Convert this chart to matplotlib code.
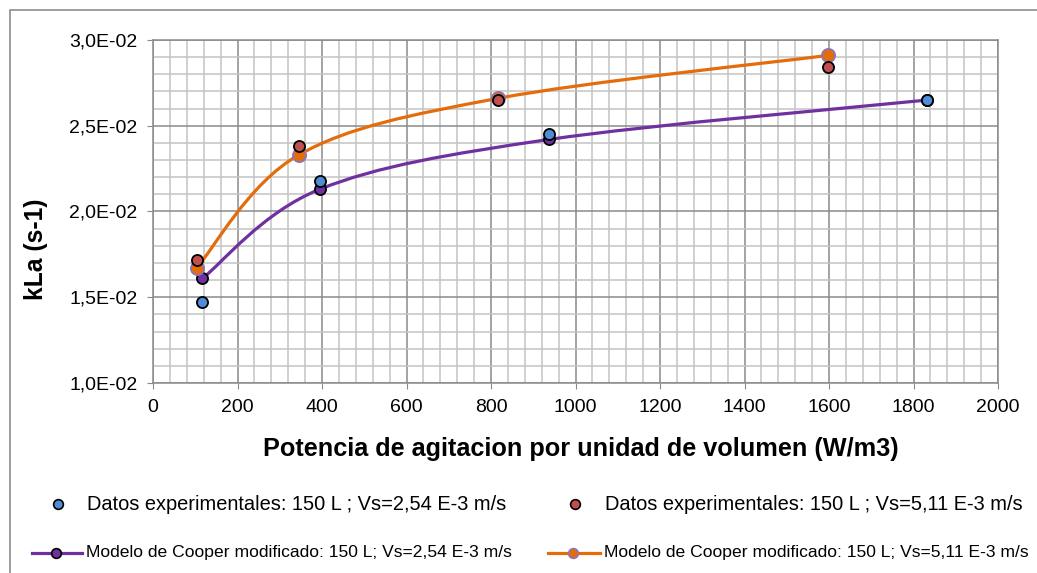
import matplotlib.pyplot as plt
from matplotlib import font_manager
from matplotlib.lines import Line2D
from matplotlib.patches import PathPatch, Rectangle
from matplotlib.path import Path
from matplotlib.ticker import FuncFormatter, MultipleLocator
import numpy as np

# Experimental kLa values
x_exp_254 = [117, 395, 937, 1833]
kla_exp_254 = [0.0147, 0.0218, 0.0245, 0.0265]
x_exp_511 = [103, 345, 817, 1597]
kla_exp_511 = [0.0172, 0.0238, 0.0265, 0.0284]

# Modified Cooper model
x_mod_254 = [117, 395, 937, 1833]
kla_mod_254 = [0.0161, 0.0213, 0.0242, 0.0265]
x_mod_511 = [103, 345, 817, 1597]
kla_mod_511 = [0.0167, 0.0233, 0.0266, 0.0291]

lbl_exp_254 = 'Datos experimentales: 150 L ; Vs=2,54 E-3 m/s'
lbl_exp_511 = 'Datos experimentales: 150 L ; Vs=5,11 E-3 m/s'
lbl_mod_254 = 'Modelo de Cooper modificado: 150 L; Vs=2,54 E-3 m/s'
lbl_mod_511 = 'Modelo de Cooper modificado: 150 L; Vs=5,11 E-3 m/s'

BLUE = '#4F8DD6'
RED = '#C0504D'
PURPLE = '#7030A0'
ORANGE = '#E46C0A'
LILAC = '#8E74B8'

plt.rcParams['font.family'] = ['Liberation Sans', 'DejaVu Sans']

# narrower face for the model entries if one is installed
installed = {f.name for f in font_manager.fontManager.ttflist}
narrow, narrow_size = 'Liberation Sans', 12.6
for name in ['Liberation Sans Narrow', 'Arial Narrow']:
    if name in installed:
        narrow, narrow_size = name, 15.3
        break

W, H = 1037, 573
fig = plt.figure(figsize=(W / 100, H / 100), dpi=100)


def fx(px):
    return px / W


def fy(py):
    return 1 - py / H


ax = fig.add_axes([fx(153), fy(383), fx(998) - fx(153), fy(40) - fy(383)])
ax.set_xlim(0, 2000)
ax.set_ylim(0.01, 0.03)

ax.xaxis.set_major_locator(MultipleLocator(200))
ax.xaxis.set_minor_locator(MultipleLocator(40))
ax.yaxis.set_major_locator(MultipleLocator(0.005))
ax.yaxis.set_minor_locator(MultipleLocator(0.001))
ax.yaxis.set_major_formatter(FuncFormatter(lambda v, p: f'{v:.1E}'.replace('.', ',')))

ax.grid(which='minor', color='#C4C4C4', lw=1.1)
ax.grid(which='major', color='#8A8A8A', lw=1.1)
ax.set_axisbelow(True)
for s in ax.spines.values():
    s.set_color('#8A8A8A')
    s.set_linewidth(1.1)
ax.tick_params(which='major', length=4.3, color='#8A8A8A', labelsize=14, pad=7)
ax.tick_params(which='minor', length=0)

ax.set_xlabel('Potencia de agitacion por unidad de volumen (W/m3)', fontsize=18.2, fontweight='bold')
ax.set_ylabel('kLa (s-1)', fontsize=17.7, fontweight='bold')
ax.xaxis.set_label_coords(fx(581), fy(437), transform=fig.transFigure)
ax.yaxis.set_label_coords(fx(48), fy(249), transform=fig.transFigure)


def smooth_path(xs, ys):
    # Bezier curve through the points, control points taken in screen space
    pts = ax.transData.transform(np.column_stack([xs, ys]))
    n = len(pts)
    verts = [pts[0]]
    codes = [Path.MOVETO]
    for i in range(n - 1):
        p0 = pts[max(i - 1, 0)]
        p1 = pts[i]
        p2 = pts[i + 1]
        p3 = pts[min(i + 2, n - 1)]
        c1 = p1 + (p2 - p0) / 6
        c2 = p2 - (p3 - p1) / 6
        verts += [c1, c2, p2]
        codes += [Path.CURVE4] * 3
    verts = ax.transData.inverted().transform(np.array(verts))
    return Path(verts, codes)


ax.add_patch(PathPatch(smooth_path(x_mod_254, kla_mod_254), fill=False, ec=PURPLE, lw=2.3, zorder=3))
ax.add_patch(PathPatch(smooth_path(x_mod_511, kla_mod_511), fill=False, ec=ORANGE, lw=2.3, zorder=3))
ax.plot(x_mod_254, kla_mod_254, 'o', ms=8, mfc=PURPLE, mec='black', mew=1.3, zorder=4)
ax.plot(x_mod_511, kla_mod_511, 'o', ms=9.5, mfc=ORANGE, mec=LILAC, mew=1.3, zorder=4)
ax.plot(x_exp_254, kla_exp_254, 'o', ms=8, mfc=BLUE, mec='black', mew=1.3, zorder=5)
ax.plot(x_exp_511, kla_exp_511, 'o', ms=8, mfc=RED, mec='black', mew=1.3, zorder=5)

# legend below the plot, two columns
tf = fig.transFigure
fig.add_artist(Line2D([fx(58)], [fy(504)], transform=tf, marker='o', ls='none',
                      ms=7, mfc=BLUE, mec='black', mew=1.2))
fig.add_artist(Line2D([fx(575)], [fy(504)], transform=tf, marker='o', ls='none',
                      ms=7, mfc=RED, mec='black', mew=1.2))
fig.add_artist(Line2D([fx(32), fx(82)], [fy(553), fy(553)], transform=tf, color=PURPLE, lw=2.3))
fig.add_artist(Line2D([fx(56)], [fy(553)], transform=tf, marker='o', ls='none',
                      ms=7, mfc=PURPLE, mec='black', mew=1.2))
fig.add_artist(Line2D([fx(548), fx(600)], [fy(553), fy(553)], transform=tf, color=ORANGE, lw=2.3))
fig.add_artist(Line2D([fx(573)], [fy(553)], transform=tf, marker='o', ls='none',
                      ms=7, mfc=ORANGE, mec=LILAC, mew=1.2))

fig.text(fx(87), fy(504), lbl_exp_254, fontsize=14.4, va='center')
fig.text(fx(605), fy(504), lbl_exp_511, fontsize=14.4, va='center')
fig.text(fx(86), fy(553), lbl_mod_254, fontsize=narrow_size, family=narrow, va='center')
fig.text(fx(604), fy(553), lbl_mod_511, fontsize=narrow_size, family=narrow, va='center')

# chart area border
fig.add_artist(Rectangle((fx(10), -0.5), 2, fy(10) + 0.5, transform=tf, fill=False,
                         ec='#8C8C8C', lw=1.2))

fig.savefig('out.png', dpi=100)
